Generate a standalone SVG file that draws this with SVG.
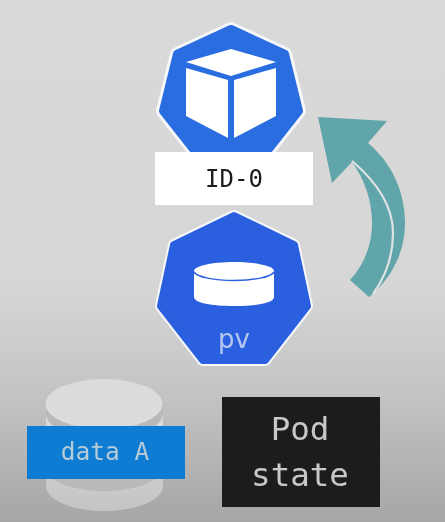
<svg xmlns="http://www.w3.org/2000/svg" width="445" height="522" viewBox="0 0 445 522">
<style>
.mono{font-family:"DejaVu Sans Mono","Liberation Mono",monospace;text-anchor:middle}
.edge{stroke:#f6f7fa;stroke-linejoin:round}
.w{fill:#fff}
</style>
<defs>
<linearGradient id="bg" x1="0" y1="0" x2="0" y2="1">
<stop offset="0" stop-color="#d9d9d9"/><stop offset="0.55" stop-color="#d6d6d6"/><stop offset="0.75" stop-color="#c4c4c4"/><stop offset="1" stop-color="#a6a6a6"/>
</linearGradient>
<linearGradient id="cyl" x1="0" y1="0" x2="0" y2="1">
<stop offset="0" stop-color="#dedede"/><stop offset="1" stop-color="#c4c4c4"/>
</linearGradient>
<filter id="soft" x="-5%" y="-5%" width="110%" height="110%"><feGaussianBlur stdDeviation="0.5"/></filter>
<path id="h1" d="M231 29L285 54L299 111L262 158L200 158L163 111L177 54Z"/>
<path id="h2" d="M234 216L294 245L307 306L265 360L203 360L161 306L174 245Z"/>
</defs>
<rect width="445" height="522" fill="url(#bg)"/>
<g filter="url(#soft)">
<g id="connectors">
<path d="M318 117L387 121L368 143C392 163 405 192 405 223C405 250 394 273 375 292L369 297L350 280C364 265 372 245 372 223C372 201 365 180 352 162L332 183Z" fill="#60a5a9"/>
<path d="M352 161C372 178 393 203 393 233C393 256 386 276 373 294" fill="none" stroke="#dfe3e3" stroke-width="2.200"/>
</g>
<g id="pod">
<use href="#h1" class="edge" stroke-width="14"/>
<use href="#h1" fill="#2a6de0" stroke="#2a6de0" stroke-width="8" stroke-linejoin="round"/>
<path class="w" d="M231 49L276 62L231 76L186 62Z"/>
<path class="w" d="M186 68L228 80V138L186 116Z"/>
<path class="w" d="M234 80L276 68V116L234 138Z"/>
</g>
<g id="id-label">
<rect x="155" y="152" width="158" height="53" class="w"/>
<text class="mono" x="234" y="187" font-size="24" fill="#1a1a1a">ID-0</text>
</g>
<g id="pv">
<use href="#h2" class="edge" stroke-width="12"/>
<use href="#h2" fill="#2c61df" stroke="#2c61df" stroke-width="8" stroke-linejoin="round"/>
<path class="w" d="M194 271V297C194 303 212 306 234 306C256 306 274 303 274 297V271C274 266 256 262 234 262C212 262 194 266 194 271Z"/>
<path d="M194 272C197 277 214 280.500 234 280.500C254 280.500 271 277 274 272" fill="none" stroke="#2c61df" stroke-width="1.500"/>
<text x="234" y="348" font-size="26" text-anchor="middle" font-family="'DejaVu Sans','Liberation Sans',sans-serif" fill="#b4c6ee">pv</text>
</g>
<g id="data-a">
<path d="M46 404V486C46 500 72 511 104 511C136 511 163 500 163 486V404Z" fill="url(#cyl)"/>
<path d="M46 415C50 432 75 440 104 440C133 440 158 432 163 415V404H46Z" fill="#b9b9b9"/>
<path d="M46 470C50 483 75 491 104 491C133 491 158 483 163 470Z" fill="#b9b9b9"/>
<ellipse cx="104" cy="404" rx="58.500" ry="25" fill="#dcdcdc"/>
<rect x="27" y="426" width="158" height="53" fill="#0a7bd2"/>
<text class="mono" x="105" y="460" font-size="24.500" fill="#b5ccd8">data A</text>
</g>
<g id="pod-state">
<rect x="222" y="397" width="158" height="110" fill="#1e1e1e"/>
<text class="mono" x="300" y="440" font-size="32.500" fill="#c8c8c8">Pod</text>
<text class="mono" x="300" y="486" font-size="32.500" fill="#c8c8c8">state</text>
</g>
</g>
</svg>
